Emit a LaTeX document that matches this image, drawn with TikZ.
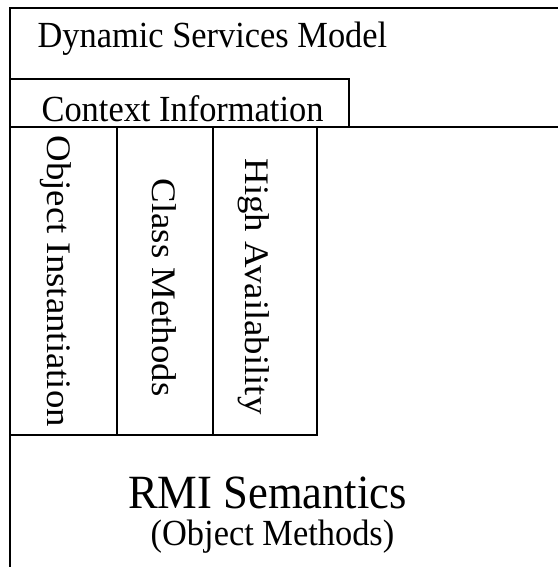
\documentclass[tikz,border=0pt]{standalone}
\usepackage{fontspec}
\setmainfont{Liberation Serif}
\usetikzlibrary{positioning}

\begin{document}
\begin{tikzpicture}[x=1pt, y=1pt, line width=1.2pt,
    box/.style={draw, rectangle, inner sep=0pt, outer sep=0pt, anchor=north west},
    lbl/.style={font=\fontsize{34.4}{40}\selectfont, inner sep=0pt, yscale=1.07},
    vlbl/.style={font=\fontsize{34.4}{40}\selectfont, inner sep=0pt, rotate=-90, xscale=1.07, anchor=base west}]
    \useasboundingbox (0,0) rectangle (557,567);
    % layers, the outer ones run past the page edge
    \node (dsm) [box, minimum width=600pt, minimum height=620pt] at (10,559) {};
    \node (rmi) [box, minimum width=600pt, minimum height=500pt] at (10,440) {};
    \node (ctx) [box, minimum width=339pt, minimum height=48pt] at (10,488) {};
    \node (obj) [box, minimum width=107pt, minimum height=308pt] at (ctx.south west) {};
    \node (cls) [box, minimum width=96pt, minimum height=308pt] at (obj.north east) {};
    \node (avail) [box, minimum width=104pt, minimum height=308pt] at (cls.north east) {};

    % labels
    \node (dsmtext) [lbl, anchor=base west] at (37,519) {Dynamic Services Model};
    \node (ctxtext) [lbl, anchor=base west] at (41,445) {Context Information};
    \node (objtext) [vlbl] at (47,432) {Object Instantiation};
    \node (clstext) [vlbl] at (152,389) {Class Methods};
    \node (availtext) [vlbl] at (245,409) {High Availability};
    \node (rmitext) [lbl, font=\fontsize{44.6}{52}\selectfont, anchor=base] at (267.5,58.5) {RMI Semantics};
    \node (rmisub) [lbl, anchor=base] at (272.5,21) {(Object Methods)};
\end{tikzpicture}
\end{document}
